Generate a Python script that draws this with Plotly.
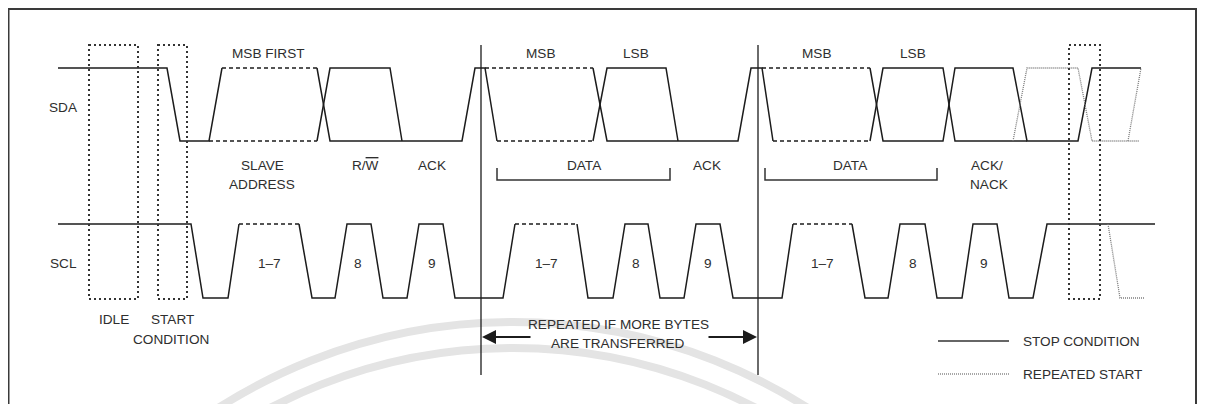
import plotly.graph_objects as go

# ---------------- data (time in diagram units, logic levels 0/1) ----------------
# SDA solid segments (None separates segments)
SDA_SOLID_T = [58, 167, 180, 209, 222, None,
               317, 330, 462, 475, 485, 497, None,
               317, 330, 390, 402, None,
               593, 607, 738, 751, 762, 773, None,
               593, 607, 666, 678, None,
               870, 883, 943, 955, 1013, 1027, 1078, 1092, 1141, None,
               870, 883, 943, 955, 1027]
SDA_SOLID_V = [1, 1, 0, 0, 1, None,
               1, 0, 0, 1, 1, 0, None,
               0, 1, 1, 0, None,
               1, 0, 0, 1, 1, 0, None,
               0, 1, 1, 0, None,
               1, 0, 0, 1, 1, 0, 0, 1, 1, None,
               0, 1, 1, 0, 0]
# SDA dashed (data bits not shown individually)
SDA_DASH_T = [222, 317, None, 209, 317, None, 485, 593, None, 497, 593, None,
              762, 870, None, 773, 870]
SDA_DASH_V = [1, 1, None, 0, 0, None, 1, 1, None, 0, 0, None,
              1, 1, None, 0, 0]
# SDA repeated-start alternative (dotted)
SDA_DOT_T = [1013, 1027, 1078, 1092, 1139, None, 1128, 1141]
SDA_DOT_V = [0, 1, 1, 0, 0, None, 0, 1]

# SCL
SCL_SOLID_T = [58, 191, 203, 228, 239, None,
               299, 312, 335, 347, 371, 383, 407, 419, 443, 455, 503, 515, None,
               577, 588, 613, 625, 648, 660, 684, 696, 720, 733, 782, 793, None,
               852, 865, 888, 900, 925, 937, 962, 973, 997, 1009, 1033, 1047, 1155]
SCL_SOLID_V = [1, 1, 0, 0, 1, None,
               1, 0, 0, 1, 1, 0, 0, 1, 1, 0, 0, 1, None,
               1, 0, 0, 1, 1, 0, 0, 1, 1, 0, 0, 1, None,
               1, 0, 0, 1, 1, 0, 0, 1, 1, 0, 0, 1, 1]
SCL_DASH_T = [239, 299, None, 515, 577, None, 793, 852]
SCL_DASH_V = [1, 1, None, 1, 1, None, 1, 1]
SCL_DOT_T = [1108, 1120, 1145]
SCL_DOT_V = [1, 0, 0]

# boundaries (time) of the repeated byte block
REPEAT_T = [481, 758]
# dotted condition boxes: (start time, end time)
BOX_T0 = [89, 158, 1069]
BOX_T1 = [138, 187, 1100]
# data brackets
BRACKET_T0 = [497, 765]
BRACKET_T1 = [670, 937]

# labels
TOP_LABELS = ["MSB FIRST", "MSB", "LSB", "MSB", "LSB"]
TOP_LABEL_T = [268, 540, 636, 816, 913]
BIT_LABELS = ["1–7", "8", "9", "1–7", "8", "9", "1–7", "8", "9"]
BIT_LABEL_T = [269, 358, 432, 546, 636, 708, 822, 913, 984]
FIELD_LABELS = ["SLAVE", "ADDRESS", "R/<span style='text-decoration:overline'>W</span>", "ACK",
                "DATA", "ACK", "DATA", "ACK/", "NACK"]
FIELD_LABEL_T = [262, 262, 365, 432, 584, 707, 850, 987, 989]
FIELD_ROW = [0, 1, 0, 0, 0, 0, 0, 0, 1]
BOTTOM_LABELS = ["IDLE", "START", "CONDITION"]
BOTTOM_LABEL_T = [114, 172, 171]
BOTTOM_ROW = [0, 0, 1]
REPEAT_TEXT = ["REPEATED IF MORE BYTES", "ARE TRANSFERRED"]
LEGEND_TEXT = ["STOP CONDITION", "REPEATED START"]

# ---------------- layout constants (pixels) ----------------
PAGE_W, PAGE_H = 1205, 412
OFF = 8  # default page margin around the plot div
W, H = PAGE_W - 2 * OFF, PAGE_H - 2 * OFF
X_END, Y_END = OFF + W, OFF + H
SDA_HI, SDA_LO = 68, 141
SCL_HI, SCL_LO = 224, 298
INK = "#1c1c1c"
TXT = "#2e2e2e"
FONT = dict(family="Liberation Sans, Arial, sans-serif", size=13.6, color=TXT)


def lane_range(hi_px, lo_px):
    unit = lo_px - hi_px
    top = 1 + (hi_px - OFF) / unit
    bottom = 1 - (Y_END - hi_px) / unit
    return [bottom, top]


fig = go.Figure()

line_solid = dict(color=INK, width=1.5)
line_dash = dict(color=INK, width=1.5, dash="4px,3px")
line_dot = dict(color="#7a7a7a", width=1.3, dash="1px,1px")

for t, v, ln, ax in [
    (SDA_SOLID_T, SDA_SOLID_V, line_solid, "y2"),
    (SDA_DASH_T, SDA_DASH_V, line_dash, "y2"),
    (SDA_DOT_T, SDA_DOT_V, line_dot, "y2"),
    (SCL_SOLID_T, SCL_SOLID_V, line_solid, "y3"),
    (SCL_DASH_T, SCL_DASH_V, line_dash, "y3"),
    (SCL_DOT_T, SCL_DOT_V, line_dot, "y3"),
]:
    fig.add_trace(go.Scatter(x=t, y=v, mode="lines", line=ln, yaxis=ax,
                             hoverinfo="skip", showlegend=False, connectgaps=False))

shapes = []
# watermark arcs (faint)
for r in (548, 522):
    shapes.append(dict(type="circle", xref="x", yref="y", x0=513 - r, x1=513 + r,
                       y0=870 - r, y1=870 + r, line=dict(color="#e4e4e4", width=8), layer="below"))
# frame
shapes.append(dict(type="rect", xref="x", yref="y", x0=OFF + 0.5, x1=X_END - 1, y0=OFF + 1, y1=430,
                   line=dict(color="#3a3a3a", width=2)))
# dotted boxes
for a, b in zip(BOX_T0, BOX_T1):
    shapes.append(dict(type="rect", xref="x", yref="y", x0=a, x1=b, y0=45, y1=299,
                       line=dict(color="#333", width=2, dash="2px,3px")))
# repeat boundaries
for t in REPEAT_T:
    shapes.append(dict(type="line", xref="x", yref="y", x0=t, x1=t, y0=45, y1=375,
                       line=dict(color=INK, width=1.3)))
# brackets
for a, b in zip(BRACKET_T0, BRACKET_T1):
    shapes.append(dict(type="path", xref="x", yref="y",
                       path=f"M {a},168 L {a},180 L {b},180 L {b},168",
                       line=dict(color="#333", width=1.5)))
# legend lines
shapes.append(dict(type="line", xref="x", yref="y", x0=938, x1=1009, y0=341, y1=341,
                   line=dict(color="#333", width=1.5)))
shapes.append(dict(type="line", xref="x", yref="y", x0=938, x1=1009, y0=374, y1=374,
                   line=dict(color="#8a8a8a", width=1.3, dash="1px,1px")))

ann = []


def txt(s, x, y, anchor="center"):
    ann.append(dict(text=s, x=x, y=y, xref="x", yref="y", showarrow=False,
                    xanchor=anchor, yanchor="middle", font=FONT))


txt("SDA", 63, 107)
txt("SCL", 63, 263)
for s, t in zip(TOP_LABELS, TOP_LABEL_T):
    txt(s, t, 53)
for s, t in zip(BIT_LABELS, BIT_LABEL_T):
    txt(s, t, 263)
for s, t, r in zip(FIELD_LABELS, FIELD_LABEL_T, FIELD_ROW):
    txt(s, t, 165 + 19 * r)
for s, t, r in zip(BOTTOM_LABELS, BOTTOM_LABEL_T, BOTTOM_ROW):
    txt(s, t, 319 + 20 * r)
txt(REPEAT_TEXT[0], 618, 324)
txt(REPEAT_TEXT[1], 618, 343)
txt(LEGEND_TEXT[0], 1021, 341, "left")
txt(LEGEND_TEXT[1], 1021, 374, "left")

# arrows
for tail, head in [(532, REPEAT_T[0] + 1), (707, REPEAT_T[1] - 1)]:
    ann.append(dict(x=head, y=337, ax=tail, ay=337, xref="x", yref="y", axref="x", ayref="y",
                    text="", showarrow=True, arrowhead=2, arrowsize=1.4, arrowwidth=2,
                    arrowcolor=INK))

fig.update_layout(
    width=W, height=H, margin=dict(l=0, r=0, t=0, b=0),
    paper_bgcolor="white", plot_bgcolor="white",
    xaxis=dict(range=[OFF, X_END], visible=False, fixedrange=True),
    yaxis=dict(range=[Y_END, OFF], visible=False, fixedrange=True),
    yaxis2=dict(range=lane_range(SDA_HI, SDA_LO), overlaying="y", visible=False, fixedrange=True),
    yaxis3=dict(range=lane_range(SCL_HI, SCL_LO), overlaying="y", visible=False, fixedrange=True),
    shapes=shapes, annotations=ann, showlegend=False,
)

fig.write_html("out.html")
